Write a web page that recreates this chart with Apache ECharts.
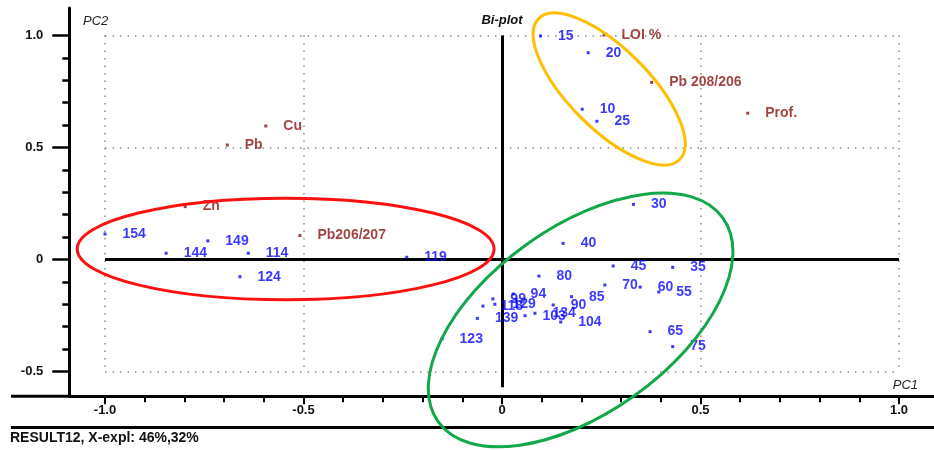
<!DOCTYPE html>
<html>
<head>
<meta charset="utf-8">
<script src="https://cdn.jsdelivr.net/npm/echarts@6/dist/echarts.min.js"></script>
<style>
  html, body { margin: 0; padding: 0; background: #ffffff; }
  #chart { width: 934px; height: 450px; }
</style>
</head>
<body>
<div id="chart"></div>
<script>
// ---- Scores of the samples (PC1, PC2) ----
const sampleNames = ['10', '15', '20', '25', '30', '35', '40', '45', '55', '60', '65', '70', '75',
  '80', '85', '90', '94', '99', '103', '104', '114', '118', '119', '123', '124', '129', '134',
  '139', '144', '149', '154'];
const samplePC1 = [0.202, 0.097, 0.217, 0.239, 0.331, 0.430, 0.154, 0.280, 0.395, 0.348, 0.373, 0.259, 0.430,
  0.093, 0.175, 0.129, 0.028, -0.023, 0.058, 0.148, -0.639, -0.048, -0.240, -0.151, -0.660, -0.018, 0.083,
  -0.062, -0.846, -0.741, -1.000];
const samplePC2 = [0.671, 0.998, 0.923, 0.617, 0.246, -0.035, 0.072, -0.029, -0.145, -0.123, -0.322, -0.114, -0.389,
  -0.074, -0.166, -0.203, -0.154, -0.176, -0.251, -0.279, 0.028, -0.208, 0.010, -0.355, -0.077, -0.200, -0.240,
  -0.263, 0.028, 0.083, 0.114];

// ---- Loadings of the variables (PC1, PC2) ----
const variableNames = ['Cu', 'Pb', 'Zn', 'Pb206/207', 'LOI %', 'Pb 208/206', 'Prof.'];
const variablePC1 = [-0.595, -0.692, -0.798, -0.509, 0.257, 0.377, 0.619];
const variablePC2 = [0.596, 0.511, 0.236, 0.107, 1.002, 0.791, 0.653];

// ---- Tick labels ----
const xTickValues = [-1, -0.5, 0, 0.5, 1];
const xTickLabels = ['-1.0', '-0.5', '0', '0.5', '1.0'];
const yTickValues = [-0.5, 0, 0.5, 1];
const yTickLabels = ['-0.5', '0', '0.5', '1.0'];

// ---- Hand-drawn group outlines: centre (PC1, PC2), semi-axes in PC1 units, tilt in degrees ----
const groupCentrePC1 = [-0.545, 0.270, 0.198];
const groupCentrePC2 = [0.047, 0.761, -0.270];
const groupSemiMajor = [0.525, 0.251, 0.441];
const groupSemiMinor = [0.128, 0.101, 0.234];
const groupTilt = [0, -45, 35.6];
const groupColors = ['#ff1010', '#ffbf00', '#12a84a'];

// ---- Layout ----
const PX_PER_X = 397, PX_PER_Y = 224;      // pixels per unit on each axis
const ORIGIN = [502, 259.5];               // pixel position of (0, 0)
const X_FRAME = [-1.09, 1.088];            // extent of the outer frame
const Y_FRAME = [-0.61, 1.123];
const X_PLOT = [-1, 1];                    // extent of the dotted plot box
const Y_PLOT = [-0.5, 1];

function gridFor(xr, yr) {
  return {
    left: ORIGIN[0] + xr[0] * PX_PER_X,
    top: ORIGIN[1] - yr[1] * PX_PER_Y,
    width: (xr[1] - xr[0]) * PX_PER_X,
    height: (yr[1] - yr[0]) * PX_PER_Y,
    containLabel: false
  };
}
const frameGrid = gridFor(X_FRAME, Y_FRAME);
const plotGrid = gridFor(X_PLOT, Y_PLOT);
const frameBottom = frameGrid.top + frameGrid.height;

const LABEL_FONT = '"Liberation Sans", Arial, sans-serif';
const SAMPLE_BLUE = '#0808ff';
const VAR_RED = '#8a1414';

function tickFormatter(values, labels) {
  return function (v) {
    for (let i = 0; i < values.length; i++) {
      if (Math.abs(values[i] - v) < 1e-6) return labels[i];
    }
    return '';
  };
}

const sampleData = sampleNames.map((n, i) => ({ name: n, value: [samplePC1[i], samplePC2[i]] }));
const variableData = variableNames.map((n, i) => ({ name: n, value: [variablePC1[i], variablePC2[i]] }));
const groupData = groupCentrePC1.map((c, i) => [c, groupCentrePC2[i], groupSemiMajor[i], groupSemiMinor[i], groupTilt[i], i]);

const chart = echarts.init(document.getElementById('chart'), null, { renderer: 'canvas' });

const option = {
  animation: false,
  backgroundColor: '#ffffff',
  grid: [frameGrid, plotGrid],
  xAxis: [
    {
      gridIndex: 0, type: 'value', min: X_FRAME[0], max: X_FRAME[1],
      axisLine: { show: true, onZero: false, lineStyle: { color: '#000', width: 3 } },
      axisTick: { show: false }, axisLabel: { show: false }, splitLine: { show: false }
    },
    {
      gridIndex: 1, type: 'value', min: X_PLOT[0], max: X_PLOT[1], interval: 0.5,
      position: 'bottom', offset: frameBottom - (plotGrid.top + plotGrid.height),
      axisLine: { show: false, onZero: false },
      axisTick: { show: true, length: 8, lineStyle: { color: '#000', width: 2 } },
      minorTick: { show: true, splitNumber: 5, length: 6, lineStyle: { color: '#000', width: 2 } },
      axisLabel: {
        show: true, margin: 8, color: '#111', fontFamily: LABEL_FONT, fontWeight: 'bold', fontSize: 13,
        formatter: tickFormatter(xTickValues, xTickLabels)
      },
      splitLine: { show: true, lineStyle: { color: '#8a8a8a', width: 1.5, type: [1.5, 6] } }
    }
  ],
  yAxis: [
    {
      gridIndex: 0, type: 'value', min: Y_FRAME[0], max: Y_FRAME[1],
      axisLine: { show: true, onZero: false, lineStyle: { color: '#000', width: 3 } },
      axisTick: { show: false }, axisLabel: { show: false }, splitLine: { show: false }
    },
    {
      gridIndex: 1, type: 'value', min: Y_PLOT[0], max: Y_PLOT[1], interval: 0.5,
      position: 'left', offset: plotGrid.left - frameGrid.left,
      axisLine: { show: false, onZero: false },
      axisTick: { show: true, length: 17, lineStyle: { color: '#000', width: 2.5 } },
      minorTick: { show: true, splitNumber: 5, length: 7, lineStyle: { color: '#000', width: 2.5 } },
      axisLabel: {
        show: true, margin: 26, color: '#111', fontFamily: LABEL_FONT, fontWeight: 'bold', fontSize: 13,
        formatter: tickFormatter(yTickValues, yTickLabels)
      },
      splitLine: { show: true, lineStyle: { color: '#8a8a8a', width: 1.5, type: [1.5, 6] } }
    }
  ],
  series: [
    {
      // zero axes of the bi-plot
      type: 'line', xAxisIndex: 0, yAxisIndex: 0, data: [], silent: true,
      markLine: {
        silent: true, symbol: 'none', label: { show: false },
        lineStyle: { color: '#000', width: 3, type: 'solid' },
        data: [
          [{ coord: [X_PLOT[0], 0] }, { coord: [X_PLOT[1], 0] }],
          [{ coord: [0, 1.0] }, { coord: [0, -0.57] }]
        ]
      }
    },
    {
      name: 'samples', type: 'scatter', xAxisIndex: 0, yAxisIndex: 0,
      symbol: 'rect', symbolSize: 3, itemStyle: { color: SAMPLE_BLUE }, z: 5,
      data: sampleData,
      label: {
        show: true, position: 'right', distance: 16, formatter: '{b}',
        color: SAMPLE_BLUE, fontFamily: LABEL_FONT, fontWeight: 'bold', fontSize: 14
      },
      labelLayout: { hideOverlap: false }
    },
    {
      name: 'variables', type: 'scatter', xAxisIndex: 0, yAxisIndex: 0,
      symbol: 'rect', symbolSize: 3, itemStyle: { color: VAR_RED }, z: 5,
      data: variableData,
      label: {
        show: true, position: 'right', distance: 16, formatter: '{b}',
        color: VAR_RED, fontFamily: LABEL_FONT, fontWeight: 'bold', fontSize: 14
      }
    },
    {
      name: 'groups', type: 'custom', xAxisIndex: 0, yAxisIndex: 0, silent: true, z: 6,
      clip: false,
      data: groupData,
      renderItem: function (params, api) {
        const c = api.coord([api.value(0), api.value(1)]);
        const unit = api.size([1, 1]);
        const rx = api.value(2) * unit[0];
        const ry = api.value(3) * unit[0];
        const tilt = api.value(4) * Math.PI / 180;
        return {
          type: 'ellipse',
          x: c[0], y: c[1], rotation: tilt,
          shape: { cx: 0, cy: 0, rx: rx, ry: ry },
          style: { fill: 'none', stroke: groupColors[api.value(5)], lineWidth: 3 }
        };
      }
    }
  ],
  graphic: [
    { type: 'line', shape: { x1: 11, y1: frameBottom, x2: frameGrid.left, y2: frameBottom },
      style: { stroke: '#000', lineWidth: 3 } },
    { type: 'line', shape: { x1: 11, y1: 427.5, x2: 934, y2: 427.5 },
      style: { stroke: '#000', lineWidth: 3 } },
    { type: 'text', x: 83, y: 21, style: { text: 'PC2', font: 'italic 13px ' + LABEL_FONT, fill: '#222', verticalAlign: 'middle' } },
    { type: 'text', x: 502, y: 20, style: { text: 'Bi-plot', font: 'italic bold 13px ' + LABEL_FONT, fill: '#111', align: 'center', verticalAlign: 'middle' } },
    { type: 'text', x: 918, y: 385, style: { text: 'PC1', font: 'italic 13px ' + LABEL_FONT, fill: '#222', align: 'right', verticalAlign: 'middle' } },
    { type: 'text', x: 10, y: 438, style: { text: 'RESULT12, X-expl: 46%,32%', font: 'bold 14px ' + LABEL_FONT, fill: '#111', verticalAlign: 'middle' } }
  ]
};

chart.setOption(option);
</script>
</body>
</html>
